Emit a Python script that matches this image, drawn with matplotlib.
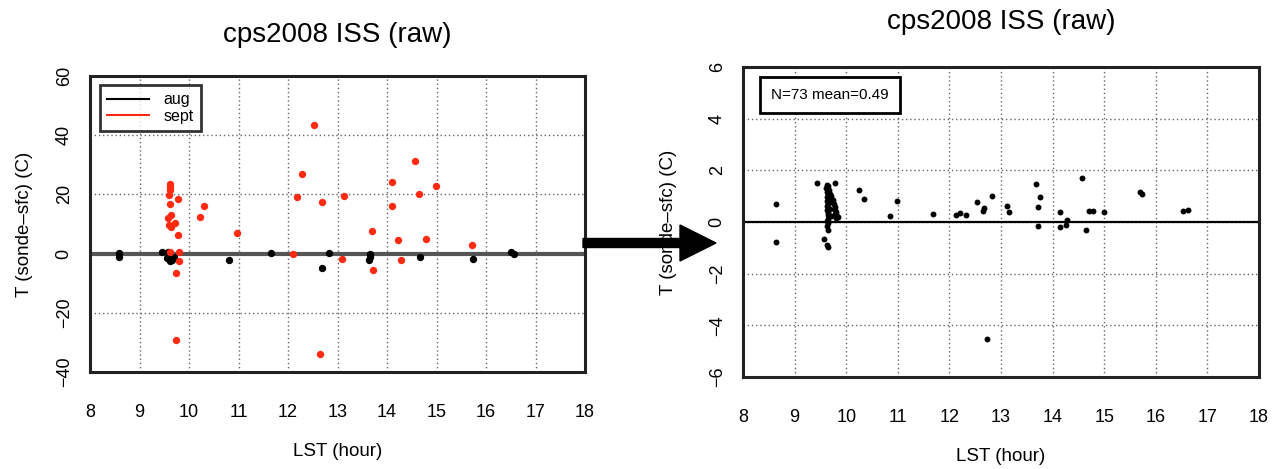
import matplotlib
matplotlib.use("Agg")
import matplotlib.pyplot as plt
from matplotlib.patches import FancyArrow

plt.rcParams['font.family'] = ['Liberation Sans', 'DejaVu Sans']

# ---------------- data ----------------
title = "cps2008 ISS (raw)"
xlabel = "LST (hour)"
ylabel = "T (sonde\u2013sfc) (C)"

xticks = [8, 9, 10, 11, 12, 13, 14, 15, 16, 17, 18]
left_yticks = [-40, -20, 0, 20, 40, 60]
right_yticks = [-6, -4, -2, 0, 2, 4, 6]

aug_x = [8.59, 8.59, 9.45, 9.55, 9.62, 9.69, 9.58, 9.65, 9.60, 10.81, 11.65,
         12.68, 12.82, 13.65, 13.64, 13.66, 14.66, 15.74, 16.51, 16.57]
aug_y = [0.1, -1.0, 0.7, -1.5, -2.6, -1.2, 0.5, -2.0, -0.8, -2.0, 0.1,
         -4.9, 0.1, -1.2, -2.1, 0.0, -1.3, -1.9, 0.5, -0.2]

sept_x = [9.62, 9.62, 9.62, 9.59, 9.77, 9.62, 9.57, 9.63, 9.72, 9.60, 9.64,
          9.77, 9.62, 9.80, 9.80, 9.74, 9.74, 10.30, 10.23, 10.96, 12.10,
          12.18, 12.29, 12.53, 12.68, 12.64, 13.14, 13.10, 13.69, 13.72,
          14.11, 14.11, 14.22, 14.29, 14.56, 14.64, 14.78, 14.99, 15.71]
sept_y = [23.5, 22.6, 21.5, 19.8, 18.4, 16.9, 12.0, 12.9, 10.3, 9.5, 9.0,
          6.4, 0.5, 0.5, -2.4, -6.4, -29.2, 16.0, 12.4, 7.0, 0.0,
          19.0, 27.0, 43.3, 17.5, -34.0, 19.5, -1.8, 7.8, -5.5,
          24.2, 16.2, 4.7, -2.0, 31.3, 20.2, 5.0, 22.9, 2.8]

all_x = [8.63, 8.63,
         9.44, 9.78, 9.62, 9.65, 9.60, 9.66, 9.63, 9.68, 9.64, 9.70, 9.62,
         9.66, 9.74, 9.63, 9.72, 9.65, 9.76, 9.62, 9.78, 9.64, 9.68, 9.79,
         9.63, 9.80, 9.65, 9.78, 9.82, 9.64, 9.70, 9.85, 9.80, 9.64, 9.63,
         9.64, 9.63, 9.64, 9.57, 9.63, 9.65,
         10.24, 10.35, 10.84, 10.98,
         11.69, 12.12, 12.20, 12.33, 12.54, 12.65, 12.68, 12.83, 12.73,
         13.11, 13.15, 13.68, 13.76, 13.71, 13.71, 14.14, 14.14, 14.25,
         14.28, 14.57, 14.64, 14.71, 14.78, 15.00, 15.70, 15.74, 16.52, 16.63]
all_y = [0.69, -0.78,
         1.51, 1.51, 1.45, 1.38, 1.30, 1.22, 1.15, 1.10, 1.05, 1.00, 0.95,
         0.90, 0.85, 0.80, 0.78, 0.70, 0.70, 0.62, 0.60, 0.55, 0.50, 0.48,
         0.45, 0.40, 0.35, 0.30, 0.25, 0.28, 0.22, 0.18, 0.15, 0.12, 0.05,
         -0.05, -0.15, -0.30, -0.66, -0.88, -0.98,
         1.24, 0.89, 0.22, 0.82,
         0.31, 0.27, 0.35, 0.28, 0.76, 0.44, 0.53, 1.02, -4.54,
         0.63, 0.37, 1.47, 0.98, 0.59, -0.14, 0.40, -0.18, -0.10,
         0.08, 1.72, -0.31, 0.44, 0.42, 0.37, 1.17, 1.08, 0.42, 0.48]

stats_text = "N=73 mean=0.49"

# ---------------- figure ----------------
W, H = 1273, 469
fig = plt.figure(figsize=(W / 100, H / 100), dpi=100)

def px_axes(l, t, r, b):
    return fig.add_axes([l / W, 1 - b / H, (r - l) / W, (b - t) / H])

axL = px_axes(90, 76, 585, 372)
axR = px_axes(743, 67, 1259, 377)

def style(ax, yticks, ylabelpad):
    ax.set_xlim(8, 18)
    ax.set_ylim(yticks[0], yticks[-1])
    ax.set_xticks(xticks)
    ax.set_yticks(yticks)
    ax.set_xticklabels([str(v) for v in xticks])
    ax.set_yticklabels([f"{v}".replace('-', '\u2212') for v in yticks],
                       rotation=90, va='center')
    ax.tick_params(axis='both', length=0, labelsize=13)
    ax.tick_params(axis='x', pad=23)
    ax.tick_params(axis='y', pad=12.5)
    ax.grid(True, linestyle=(0, (1, 2)), color='#666666', linewidth=1.0)
    ax.set_axisbelow(True)
    for s in ax.spines.values():
        s.set_linewidth(2.2)
        s.set_color('#222222')
    ax.set_xlabel(xlabel, fontsize=13.5, labelpad=16)
    ax.set_ylabel(ylabel, fontsize=13.5, labelpad=ylabelpad)

style(axL, left_yticks, 16)
style(axR, right_yticks, 23)

# left panel
axL.axhline(0, color='#555555', linewidth=3, zorder=1.5)
axL.scatter(aug_x, aug_y, s=28, color='black', zorder=3, linewidths=0)
axL.scatter(sept_x, sept_y, s=28, color='#ff2a10', zorder=3, linewidths=0)
h1, = axL.plot([], [], color='black', lw=1.5, label='aug')
h2, = axL.plot([], [], color='#ff2a10', lw=1.5, label='sept')
leg = axL.legend(handles=[h1, h2], loc='upper left',
                 bbox_to_anchor=(10 / 495, 1 - 9 / 296), fontsize=11.5,
                 frameon=True, fancybox=False, handlelength=2.6,
                 handletextpad=0.9, borderpad=0.45, labelspacing=0.1,
                 borderaxespad=0)
leg.get_frame().set_edgecolor('black')
leg.get_frame().set_linewidth(2)

# right panel
axR.axhline(0, color='black', linewidth=1.6, zorder=1.5)
axR.scatter(all_x, all_y, s=18, color='black', zorder=3, linewidths=0)
axR.text((830 - 743) / 516, 1 - (95 - 67) / 310, stats_text,
         transform=axR.transAxes, ha='center', va='center', fontsize=11,
         bbox=dict(boxstyle='square,pad=0.75', facecolor='white',
                   edgecolor='black', linewidth=2))

# titles
fig.text(337.5 / W, 1 - 35 / H, title, ha='center', va='center', fontsize=20)
fig.text(1001 / W, 1 - 22 / H, title, ha='center', va='center', fontsize=20)

# arrow between the panels
y_ar = 1 - 243 / H
fig.patches.append(FancyArrow(583 / W, y_ar, (716 - 583) / W, 0,
                              width=9 / H, head_width=36 / H,
                              head_length=36 / W, length_includes_head=True,
                              color='black', transform=fig.transFigure,
                              figure=fig, zorder=10))

fig.savefig('out.png', dpi=100)
